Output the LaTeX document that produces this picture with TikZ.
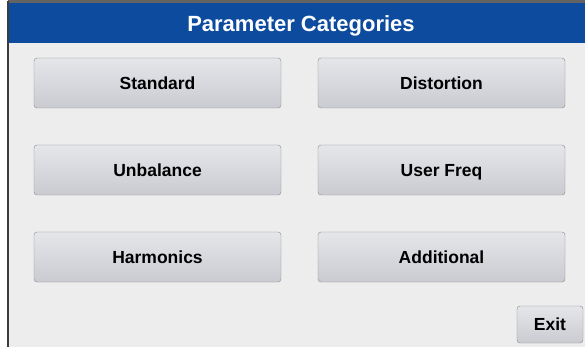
\documentclass[tikz,border=0pt]{standalone}
\usepackage{fontspec}
\setmainfont{Liberation Sans}
\definecolor{barblue}{HTML}{0D4B9E}
\definecolor{bodygray}{HTML}{EDEDED}
\definecolor{framegray}{HTML}{3C3C3C}
\definecolor{btnline}{HTML}{8A8A8A}
\definecolor{btntop}{HTML}{E4E6EA}
\definecolor{btnbot}{HTML}{C9CBD0}
\tikzset{
	btn/.style={draw=btnline, rounded corners=3pt, top color=btntop, bottom color=btnbot,
		minimum width=247pt, minimum height=50pt, inner sep=0pt, text height=12.5pt, text depth=0pt,
		font=\fontsize{17.5}{20}\selectfont\bfseries},
	smallbtn/.style={btn, minimum width=66pt, minimum height=37pt}
}
\begin{document}
\begin{tikzpicture}[x=1pt,y=-1pt]
			\useasboundingbox (0,0) rectangle (585,347);
			\fill[bodygray] (8,3) rectangle (585,347);
			\fill[barblue] (8,3) rectangle (585,43);
			\draw[line width=3pt, framegray!80] (8,1.5) -- (585,1.5);
			\draw[line width=2pt, framegray] (8,347) -- (8,1);
			
			\node[anchor=base, text=white, font=\fontsize{22}{24}\selectfont\bfseries] (title) at (301,32) {Parameter Categories};
			
			\node[btn] (standard) at (157.5,83) {Standard};
			\node[btn] (distortion) at (441.5,83) {Distortion};
			
			\node[btn] (unbalance) at (157.5,170) {Unbalance};
			\node[btn] (userfreq) at (441.5,170) {User Freq};
			
			\node[btn] (harmonics) at (157.5,257) {Harmonics};
			\node[btn] (additional) at (441.5,257) {Additional};
			
			\node[smallbtn] (exit) at (550,324.5) {Exit};
		\end{tikzpicture}
\end{document}
